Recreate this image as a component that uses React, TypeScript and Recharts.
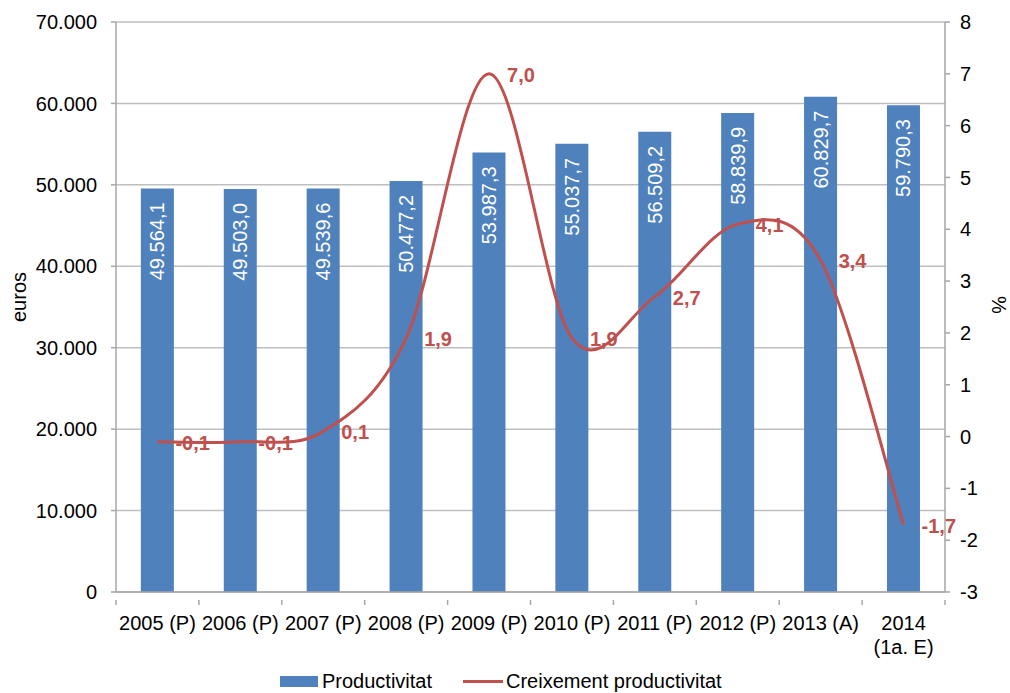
import React from 'react';
import { ComposedChart, Bar, Line, XAxis, YAxis, CartesianGrid, LabelList } from 'recharts';

const categories = ['2005 (P)', '2006 (P)', '2007 (P)', '2008 (P)', '2009 (P)', '2010 (P)', '2011 (P)', '2012 (P)', '2013 (A)', '2014\n(1a. E)'];
const productivitat = [49564.1, 49503.0, 49539.6, 50477.2, 53987.3, 55037.7, 56509.2, 58839.9, 60829.7, 59790.3];
const creixement = [-0.1, -0.1, 0.1, 1.9, 7.0, 1.9, 2.7, 4.1, 3.4, -1.7];
const leftTicks = [0, 10000, 20000, 30000, 40000, 50000, 60000, 70000];
const rightTicks = [-3, -2, -1, 0, 1, 2, 3, 4, 5, 6, 7, 8];

const data = categories.map((c, i) => ({ cat: c, prod: productivitat[i], creix: creixement[i] }));

const FONT = '"Liberation Sans", Arial, sans-serif';
const FS = 20;
const BLUE = '#4F81BD';
const RED = '#C0504D';
const AXIS = '#A6A6A6';
const GRID = '#BFBFBF';

const fmt = (v: number, dec: number) => {
  const s = v.toFixed(dec);
  const [i, d] = s.split('.');
  const ii = i.replace(/\B(?=(\d{3})+(?!\d))/g, '.');
  return d ? ii + ',' + d : ii;
};

const excelSmooth: any = (context: any) => {
  let pts: [number, number][] = [];
  return {
    areaStart() {},
    areaEnd() {},
    lineStart() { pts = []; },
    point(x: number, y: number) { pts.push([+x, +y]); },
    lineEnd() {
      const n = pts.length;
      if (!n) return;
      context.moveTo(pts[0][0], pts[0][1]);
      for (let i = 0; i < n - 1; i++) {
        const p0 = pts[Math.max(i - 1, 0)];
        const p1 = pts[i];
        const p2 = pts[i + 1];
        const p3 = pts[Math.min(i + 2, n - 1)];
        context.bezierCurveTo(
          p1[0] + (p2[0] - p0[0]) / 6, p1[1] + (p2[1] - p0[1]) / 6,
          p2[0] - (p3[0] - p1[0]) / 6, p2[1] - (p3[1] - p1[1]) / 6,
          p2[0], p2[1]
        );
      }
    },
  };
};

const BAND = (945 - 116) / categories.length;

const XTick = (props: any) => {
  const { x, y, payload, index } = props;
  const lines = String(payload.value).split('\n');
  const half = BAND / 2;
  return (
    <g>
      <line x1={x - half} x2={x - half} y1={y} y2={y + 5} stroke={AXIS} strokeWidth={1.5} />
      {index === categories.length - 1 && (
        <line x1={x + half} x2={x + half} y1={y} y2={y + 5} stroke={AXIS} strokeWidth={1.5} />
      )}
      <text x={x} y={y + 30} textAnchor="middle" fontSize={FS} fontFamily={FONT} fill="#000">
        {lines.map((l, i) => (
          <tspan key={i} x={x} dy={i === 0 ? 0 : 24}>{l}</tspan>
        ))}
      </text>
    </g>
  );
};

const BarLabel = (props: any) => {
  const { x, y, width, value } = props;
  const cx = x + width / 2;
  const ty = y + 14;
  return (
    <text x={cx} y={ty} transform={`rotate(-90 ${cx} ${ty})`} textAnchor="end" dominantBaseline="central"
      fill="#fff" fontSize={FS} fontFamily={FONT}>{fmt(value, 1)}</text>
  );
};

const LineLabel = (props: any) => {
  const { x, y, value } = props;
  return (
    <text x={x + 18} y={y + 1} dominantBaseline="central" fill={RED} fontWeight="bold"
      fontSize={FS} fontFamily={FONT}>{fmt(value, 1)}</text>
  );
};

const LeftTitle = (props: any) => {
  const vb = props.viewBox;
  const tx = 19;
  const ty = vb.y + vb.height / 2 - 10;
  return (
    <text x={tx} y={ty} transform={`rotate(-90 ${tx} ${ty})`} textAnchor="middle" dominantBaseline="central"
      fontSize={FS} fontFamily={FONT} fill="#000">euros</text>
  );
};

const RightTitle = (props: any) => {
  const vb = props.viewBox;
  const tx = 999;
  const ty = vb.y + vb.height / 2 - 2;
  return (
    <text x={tx} y={ty} transform={`rotate(90 ${tx} ${ty})`} textAnchor="middle" dominantBaseline="central"
      fontSize={FS} fontFamily={FONT} fill="#000">%</text>
  );
};

export default function App() {
  return (
    <div style={{ position: 'absolute', left: 0, top: 0, width: 1010, height: 693, background: '#fff', fontFamily: FONT }}>
      <ComposedChart width={1010} height={693} data={data} margin={{ top: 22, right: 0, bottom: 0, left: 0 }}
        barCategoryGap="30%">
        <CartesianGrid yAxisId="left" vertical={false} stroke={GRID} strokeWidth={1.5} />
        <XAxis dataKey="cat" height={101} interval={0} tickLine={false} axisLine={{ stroke: AXIS, strokeWidth: 1.5 }}
          tick={<XTick />} />
        <YAxis yAxisId="left" width={116} domain={[0, 70000]} ticks={leftTicks} interval={0}
          tickFormatter={(v: number) => fmt(v, 0)} tick={{ fontSize: FS, fontFamily: FONT, fill: '#000' }}
          tickSize={5} tickMargin={14} tickLine={{ stroke: AXIS, strokeWidth: 1.5 }}
          axisLine={{ stroke: AXIS, strokeWidth: 1.5 }} label={<LeftTitle />} />
        <YAxis yAxisId="right" orientation="right" width={65} domain={[-3, 8]} ticks={rightTicks} interval={0}
          tick={{ fontSize: FS, fontFamily: FONT, fill: '#000' }}
          tickSize={5} tickMargin={10} tickLine={{ stroke: AXIS, strokeWidth: 1.5 }}
          axisLine={{ stroke: AXIS, strokeWidth: 1.5 }} label={<RightTitle />} />
        <Bar yAxisId="left" dataKey="prod" fill={BLUE} isAnimationActive={false}>
          <LabelList dataKey="prod" content={<BarLabel />} />
        </Bar>
        <Line yAxisId="right" dataKey="creix" type={excelSmooth} stroke={RED} strokeWidth={3} dot={false}
          activeDot={false} isAnimationActive={false}>
          <LabelList dataKey="creix" content={<LineLabel />} />
        </Line>
      </ComposedChart>
      <div style={{ position: 'absolute', left: 280, top: 676, width: 38, height: 11, background: BLUE }} />
      <div style={{ position: 'absolute', left: 322, top: 669, fontSize: FS, lineHeight: '24px', color: '#000', whiteSpace: 'nowrap' }}>Productivitat</div>
      <div style={{ position: 'absolute', left: 463, top: 680, width: 40, height: 3, background: RED }} />
      <div style={{ position: 'absolute', left: 506, top: 669, fontSize: FS, lineHeight: '24px', color: '#000', whiteSpace: 'nowrap' }}>Creixement productivitat</div>
    </div>
  );
}
